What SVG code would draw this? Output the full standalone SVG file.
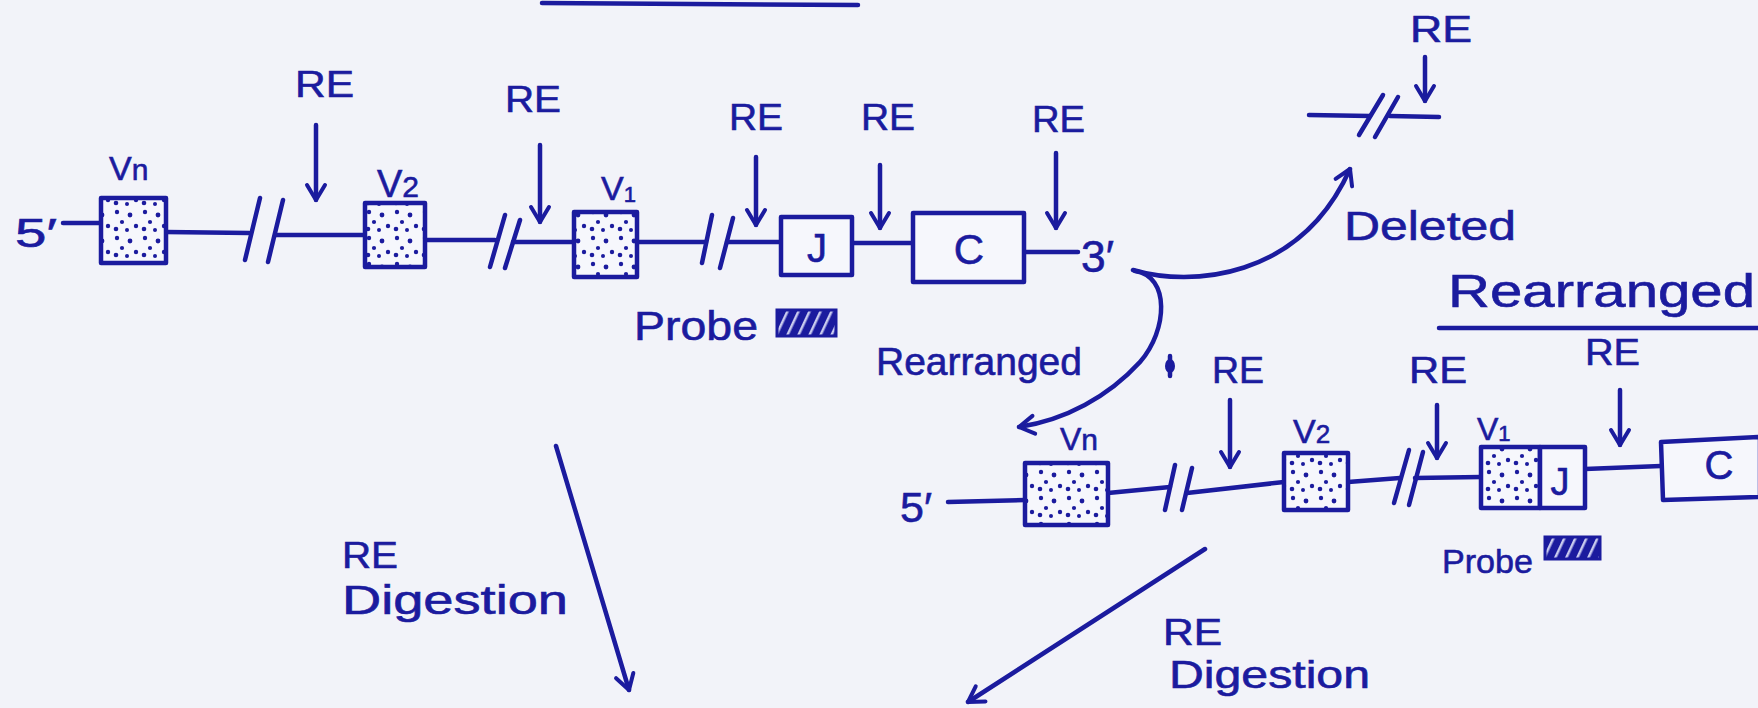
<svg xmlns="http://www.w3.org/2000/svg" width="1758" height="708" viewBox="0 0 1758 708">
<defs>
<style>
.ink{stroke:#1b1b9e;stroke-width:4.5;fill:none;stroke-linecap:round;stroke-linejoin:round}
.box{stroke:#1b1b9e;stroke-width:4.5;fill:#f6f7fc;stroke-linejoin:round}
.vbox{stroke:#1b1b9e;stroke-width:4.5;fill:url(#dots);stroke-linejoin:round}
.t{font-family:"Liberation Sans","DejaVu Sans",sans-serif;fill:#1b1b9e;stroke:#1b1b9e;stroke-width:0.6}
.re{font-size:36px}
.lab{font-size:40px}
</style>
<pattern id="dots" width="28" height="26" patternUnits="userSpaceOnUse">
<rect width="28" height="26" fill="#f6f7fc"/>
<circle cx="5" cy="4" r="2.2" fill="#1b1b9e"/>
<circle cx="18" cy="7" r="2.4" fill="#1b1b9e"/>
<circle cx="10" cy="14" r="2.1" fill="#1b1b9e"/>
<circle cx="24" cy="18" r="2.2" fill="#1b1b9e"/>
<circle cx="4" cy="21" r="2.3" fill="#1b1b9e"/>
<circle cx="15" cy="22" r="2" fill="#1b1b9e"/>
</pattern>
<pattern id="hatch" width="10" height="10" patternUnits="userSpaceOnUse" patternTransform="rotate(25)">
<rect width="10" height="10" fill="#1b1b9e"/>
<rect x="4" width="2.5" height="10" fill="#c9cbef"/>
</pattern>
<marker id="ah" viewBox="0 0 24 24" refX="21" refY="12" markerWidth="24" markerHeight="24" markerUnits="userSpaceOnUse" orient="auto">
<path d="M6,3 L21,12 L6,21" fill="none" stroke="#1b1b9e" stroke-width="4" stroke-linecap="round" stroke-linejoin="round"/>
</marker>
</defs>
<rect width="1758" height="708" fill="#f2f3f9"/>

<g id="top-rule"><path class="ink" d="M542,3 L858,5" stroke-width="5"/></g>

<g id="connectors">
<path class="ink" d="M63,223 L101,223"/>
<path class="ink" d="M166,232 L249,233"/>
<path class="ink" d="M260,198 L245,260 M283,200 L268,262"/>
<path class="ink" d="M276,235 L365,235"/>
<path class="ink" d="M425,240 L495,240"/>
<path class="ink" d="M505,215 L490,267 M520,220 L505,268"/>
<path class="ink" d="M513,242 L574,242"/>
<path class="ink" d="M637,242 L706,242"/>
<path class="ink" d="M712,215 L702,263 M733,218 L720,268"/>
<path class="ink" d="M727,242 L781,242"/>
<path class="ink" d="M852,243 L913,243"/>
<path class="ink" d="M1024,252 L1078,252"/>
<path class="ink" d="M316,125 L316,200" marker-end="url(#ah)"/>
<path class="ink" d="M540,145 L540,222" marker-end="url(#ah)"/>
<path class="ink" d="M756,157 L756,225" marker-end="url(#ah)"/>
<path class="ink" d="M880,165 L880,228" marker-end="url(#ah)"/>
<path class="ink" d="M1056,153 L1056,228" marker-end="url(#ah)"/>
<path class="ink" d="M1309,115 L1370,116 M1390,116 L1439,117"/>
<path class="ink" d="M1383,95 L1359,135 M1398,97 L1375,137"/>
<path class="ink" d="M1425,57 L1425,101" marker-end="url(#ah)"/>
<path class="ink" d="M1133,270 C1190,287 1300,280 1350,169" marker-end="url(#ah)"/>
<path class="ink" d="M1135,271 C1170,276 1168,330 1140,362 C1108,397 1065,420 1019,427" marker-end="url(#ah)"/>
<path class="ink" d="M948,502 L1025,500"/>
<path class="ink" d="M1108,493 L1170,487"/>
<path class="ink" d="M1175,465 L1165,510 M1192,468 L1182,510"/>
<path class="ink" d="M1187,493 L1284,482"/>
<path class="ink" d="M1348,482 L1400,478"/>
<path class="ink" d="M1409,450 L1394,503 M1423,452 L1409,505"/>
<path class="ink" d="M1415,478 L1481,477"/>
<path class="ink" d="M1585,469 L1661,466"/>
<path class="ink" d="M1230,400 L1230,467" marker-end="url(#ah)"/>
<path class="ink" d="M1437,405 L1437,458" marker-end="url(#ah)"/>
<path class="ink" d="M1620,390 L1620,445" marker-end="url(#ah)"/>
<path class="ink" d="M556,446 L629,690" marker-end="url(#ah)"/>
<path class="ink" d="M1205,549 L968,702" marker-end="url(#ah)"/>
<path class="ink" d="M1439,328 L1758,328"/>
</g>

<g id="row1-5prime"><text class="t lab" x="15" y="247" textLength="42" lengthAdjust="spacingAndGlyphs">5′</text></g>
<g id="row1-Vn"><rect class="vbox" x="101" y="198" width="65" height="65"/><text class="t" x="109" y="180" font-size="34">V<tspan font-size="30">n</tspan></text></g>
<g id="row1-V2"><rect class="vbox" x="365" y="203" width="60" height="64"/><text class="t" x="377" y="197" font-size="38">V<tspan font-size="30">2</tspan></text></g>
<g id="row1-V1"><rect class="vbox" x="574" y="212" width="63" height="65"/><text class="t" x="601" y="200" font-size="34">V<tspan font-size="22" dy="2">1</tspan></text></g>
<g id="row1-J"><rect class="box" x="781" y="217" width="71" height="58"/><text class="t lab" x="817" y="262" text-anchor="middle">J</text></g>
<g id="row1-C"><rect class="box" x="913" y="213" width="111" height="69"/><text class="t" x="969" y="264" font-size="42" text-anchor="middle">C</text></g>
<g id="row1-3prime"><text class="t" x="1081" y="272" font-size="44" textLength="33" lengthAdjust="spacingAndGlyphs">3′</text></g>
<g id="row1-RE">
<text class="t re" x="295" y="97" textLength="59" lengthAdjust="spacingAndGlyphs">RE</text>
<text class="t re" x="505" y="112" textLength="56" lengthAdjust="spacingAndGlyphs">RE</text>
<text class="t re" x="729" y="130" textLength="54" lengthAdjust="spacingAndGlyphs">RE</text>
<text class="t re" x="861" y="130" textLength="54" lengthAdjust="spacingAndGlyphs">RE</text>
<text class="t re" x="1032" y="132" textLength="53" lengthAdjust="spacingAndGlyphs">RE</text>
</g>
<g id="row1-probe"><text class="t lab" x="634" y="340" textLength="124" lengthAdjust="spacingAndGlyphs">Probe</text><rect x="777" y="310" width="59" height="26" fill="url(#hatch)" stroke="#1b1b9e" stroke-width="3"/></g>

<g id="deleted"><text class="t re" x="1410" y="42" textLength="62" lengthAdjust="spacingAndGlyphs">RE</text><text class="t lab" x="1344" y="240" textLength="172" lengthAdjust="spacingAndGlyphs">Deleted</text></g>
<g id="rearranged-title"><text class="t" x="1448" y="307" font-size="46" textLength="307" lengthAdjust="spacingAndGlyphs">Rearranged</text></g>
<g id="rearranged-label"><text class="t" x="876" y="375" font-size="38" textLength="206" lengthAdjust="spacingAndGlyphs">Rearranged</text>
<ellipse cx="1170" cy="366" rx="5" ry="7" fill="#1b1b9e"/><path class="ink" d="M1170,356 L1170,376" stroke-width="3"/></g>

<g id="row2-5prime"><text class="t" x="900" y="522" font-size="42" textLength="32" lengthAdjust="spacingAndGlyphs">5′</text></g>
<g id="row2-Vn"><rect class="vbox" x="1025" y="463" width="83" height="62"/><text class="t" x="1060" y="450" font-size="32">V<tspan font-size="30">n</tspan></text></g>
<g id="row2-V2"><rect class="vbox" x="1284" y="453" width="64" height="57"/><text class="t" x="1293" y="443" font-size="34">V<tspan font-size="26">2</tspan></text></g>
<g id="row2-V1J"><rect class="vbox" x="1481" y="447" width="59" height="61"/><rect class="box" x="1540" y="447" width="45" height="61"/><text class="t" x="1477" y="440" font-size="32">V<tspan font-size="22" dy="1">1</tspan></text><text class="t" x="1560" y="495" font-size="38" text-anchor="middle">J</text></g>
<g id="row2-C"><path class="box" d="M1661,442 L1760,437 L1760,497 L1663,500 Z"/><text class="t" x="1719" y="479" font-size="40" text-anchor="middle">C</text></g>
<g id="row2-RE">
<text class="t re" x="1212" y="383" textLength="52" lengthAdjust="spacingAndGlyphs">RE</text>
<text class="t re" x="1409" y="383" textLength="58" lengthAdjust="spacingAndGlyphs">RE</text>
<text class="t re" x="1585" y="365" textLength="55" lengthAdjust="spacingAndGlyphs">RE</text>
</g>
<g id="row2-probe"><text class="t" x="1442" y="573" font-size="34" textLength="91" lengthAdjust="spacingAndGlyphs">Probe</text><rect x="1545" y="537" width="55" height="22" fill="url(#hatch)" stroke="#1b1b9e" stroke-width="3"/></g>

<g id="digestion-left"><text class="t re" x="342" y="568" textLength="56" lengthAdjust="spacingAndGlyphs">RE</text><text class="t lab" x="342" y="614" textLength="226" lengthAdjust="spacingAndGlyphs">Digestion</text></g>
<g id="digestion-right"><text class="t re" x="1163" y="645" textLength="59" lengthAdjust="spacingAndGlyphs">RE</text><text class="t" x="1169" y="688" font-size="38" textLength="201" lengthAdjust="spacingAndGlyphs">Digestion</text></g>
</svg>
